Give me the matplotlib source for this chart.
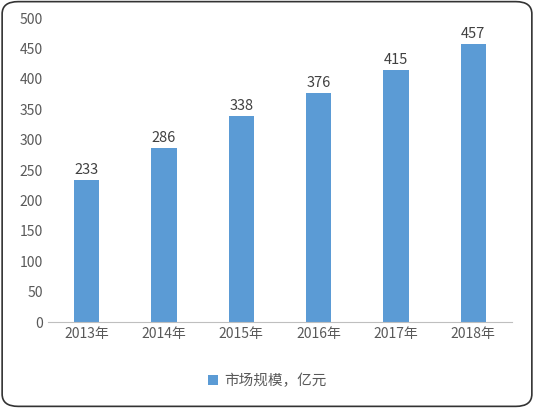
import matplotlib
matplotlib.use("Agg")
import matplotlib.pyplot as plt
from matplotlib.patches import FancyBboxPatch

plt.rcParams['font.family'] = ['Noto Sans CJK SC', 'DejaVu Sans']

years = ['2013年', '2014年', '2015年', '2016年', '2017年', '2018年']
values = [233, 286, 338, 376, 415, 457]
yticks = list(range(0, 501, 50))

fig = plt.figure(figsize=(5.34, 4.08), dpi=100)
fig.patches.append(FancyBboxPatch((0.004, 0.004), 0.992, 0.992, boxstyle="round,pad=0,rounding_size=0.03",
                                  transform=fig.transFigure, fill=False, edgecolor='#333333', linewidth=1.2))
ax = fig.add_axes([48/534, 1-322/408, (512-48)/534, (322-18)/408])
x = range(len(years))
bars = ax.bar(x, values, width=0.33, color='#5B9BD5', label='市场规模，亿元')
for xi, v in zip(x, values):
    ax.text(xi, v + 5, str(v), ha='center', va='bottom', fontsize=10.5, color='#404040')
ax.set_xlim(-0.5, len(years) - 0.5)
ax.set_ylim(0, 500)
ax.set_yticks(yticks)
ax.set_xticks(list(x))
ax.set_xticklabels(years)
ax.tick_params(axis='both', length=0, labelsize=10, colors='#595959')
for s in ['top', 'right', 'left']:
    ax.spines[s].set_visible(False)
ax.spines['bottom'].set_color('#BFBFBF')
fig.legend(handles=[bars], loc='center', bbox_to_anchor=(0.5, 1-381/408), frameon=False,
           fontsize=10.5, labelcolor='#595959', handlelength=0.7, handleheight=0.7, handletextpad=0.4)
fig.savefig('out.png', dpi=100)
